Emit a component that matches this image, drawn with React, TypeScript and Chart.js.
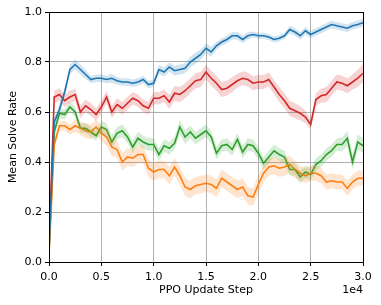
import React, { useEffect, useRef } from "react";
import { Chart, registerables } from "chart.js";

Chart.register(...registerables);

const steps = [
  0.0, 0.05, 0.1, 0.15, 0.2, 0.25, 0.3, 0.35, 0.4, 0.45, 0.5, 0.55, 0.6, 0.65, 0.7, 0.75, 0.8, 0.85, 0.9, 0.95,
  1.0, 1.05, 1.1, 1.15, 1.2, 1.25, 1.3, 1.35, 1.4, 1.45, 1.5, 1.55, 1.6, 1.65, 1.7, 1.75, 1.8, 1.85, 1.9, 1.95,
  2.0, 2.05, 2.1, 2.15, 2.2, 2.25, 2.3, 2.35, 2.4, 2.45, 2.5, 2.55, 2.6, 2.65, 2.7, 2.75, 2.8, 2.85, 2.9, 2.95, 3.0,
];

const blueMean = [
  0.05, 0.56, 0.61, 0.68, 0.77, 0.79, 0.77, 0.75, 0.73, 0.735, 0.735, 0.73, 0.735, 0.725, 0.72, 0.72, 0.715, 0.72, 0.73, 0.71,
  0.715, 0.77, 0.76, 0.78, 0.765, 0.77, 0.775, 0.8, 0.815, 0.83, 0.855, 0.84, 0.865, 0.88, 0.89, 0.905, 0.905, 0.89, 0.905, 0.91,
  0.905, 0.905, 0.9, 0.89, 0.895, 0.905, 0.93, 0.92, 0.905, 0.925, 0.91, 0.92, 0.93, 0.94, 0.95, 0.945, 0.94, 0.935, 0.945, 0.95, 0.957,
];
const blueSpread = [
  0.01, 0.02, 0.02, 0.02, 0.02, 0.02, 0.02, 0.018, 0.015, 0.015, 0.015, 0.015, 0.018, 0.015, 0.015, 0.015, 0.015, 0.015, 0.015, 0.015,
  0.015, 0.018, 0.018, 0.018, 0.02, 0.02, 0.02, 0.022, 0.022, 0.02, 0.02, 0.02, 0.015, 0.015, 0.015, 0.015, 0.015, 0.015, 0.015, 0.012,
  0.012, 0.012, 0.012, 0.012, 0.012, 0.012, 0.015, 0.015, 0.015, 0.015, 0.015, 0.015, 0.015, 0.015, 0.015, 0.015, 0.015, 0.015, 0.015, 0.015, 0.015,
];

const redMean = [
  0.07, 0.66, 0.67, 0.645, 0.66, 0.67, 0.6, 0.625, 0.61, 0.59, 0.62, 0.66, 0.6, 0.63, 0.615, 0.635, 0.655, 0.645, 0.625, 0.615,
  0.655, 0.655, 0.665, 0.64, 0.675, 0.67, 0.685, 0.705, 0.725, 0.73, 0.76, 0.735, 0.715, 0.69, 0.695, 0.71, 0.725, 0.735, 0.73, 0.715,
  0.72, 0.72, 0.73, 0.7, 0.67, 0.645, 0.615, 0.605, 0.595, 0.58, 0.55, 0.65, 0.665, 0.67, 0.695, 0.72, 0.715, 0.705, 0.72, 0.735, 0.755,
];
const redSpread = [
  0.01, 0.025, 0.025, 0.025, 0.025, 0.025, 0.025, 0.025, 0.025, 0.025, 0.025, 0.025, 0.025, 0.025, 0.025, 0.025, 0.025, 0.025, 0.025, 0.025,
  0.025, 0.025, 0.025, 0.028, 0.03, 0.03, 0.03, 0.03, 0.03, 0.03, 0.03, 0.03, 0.03, 0.03, 0.03, 0.03, 0.028, 0.028, 0.028, 0.028,
  0.028, 0.028, 0.028, 0.028, 0.03, 0.03, 0.03, 0.03, 0.028, 0.025, 0.02, 0.025, 0.028, 0.03, 0.03, 0.03, 0.03, 0.03, 0.03, 0.035, 0.035,
];

const greenMean = [
  0.04, 0.52, 0.595, 0.59, 0.62, 0.6, 0.535, 0.535, 0.52, 0.505, 0.54, 0.53, 0.48, 0.515, 0.525, 0.5, 0.46, 0.495, 0.48, 0.47,
  0.47, 0.43, 0.465, 0.455, 0.475, 0.54, 0.5, 0.52, 0.495, 0.51, 0.525, 0.5, 0.435, 0.465, 0.47, 0.45, 0.49, 0.44, 0.47, 0.465,
  0.435, 0.395, 0.42, 0.445, 0.43, 0.42, 0.37, 0.37, 0.34, 0.36, 0.35, 0.39, 0.405, 0.43, 0.445, 0.47, 0.47, 0.495, 0.4, 0.48, 0.465,
];
const greenSpread = [
  0.01, 0.02, 0.02, 0.02, 0.02, 0.02, 0.02, 0.02, 0.02, 0.02, 0.025, 0.025, 0.025, 0.025, 0.025, 0.025, 0.025, 0.025, 0.025, 0.025,
  0.025, 0.025, 0.025, 0.025, 0.025, 0.028, 0.028, 0.025, 0.025, 0.025, 0.025, 0.025, 0.025, 0.025, 0.025, 0.025, 0.025, 0.025, 0.025, 0.025,
  0.025, 0.025, 0.025, 0.025, 0.025, 0.025, 0.025, 0.025, 0.025, 0.025, 0.025, 0.025, 0.025, 0.025, 0.025, 0.025, 0.028, 0.03, 0.03, 0.03, 0.03,
];

const orangeMean = [
  0.03, 0.47, 0.545, 0.545, 0.53, 0.545, 0.535, 0.525, 0.52, 0.54, 0.515, 0.5, 0.46, 0.45, 0.4, 0.42, 0.415, 0.43, 0.43, 0.375,
  0.36, 0.37, 0.37, 0.345, 0.38, 0.345, 0.3, 0.29, 0.305, 0.31, 0.315, 0.31, 0.295, 0.335, 0.32, 0.305, 0.29, 0.3, 0.265, 0.26,
  0.31, 0.355, 0.38, 0.385, 0.375, 0.38, 0.39, 0.37, 0.355, 0.345, 0.355, 0.355, 0.345, 0.32, 0.325, 0.32, 0.32, 0.295, 0.32, 0.335, 0.335,
];
const orangeSpread = [
  0.01, 0.02, 0.02, 0.02, 0.02, 0.025, 0.025, 0.03, 0.03, 0.03, 0.03, 0.035, 0.035, 0.035, 0.035, 0.035, 0.035, 0.035, 0.035, 0.035,
  0.035, 0.035, 0.035, 0.035, 0.035, 0.035, 0.035, 0.035, 0.035, 0.035, 0.035, 0.035, 0.035, 0.035, 0.035, 0.035, 0.035, 0.035, 0.035, 0.035,
  0.035, 0.035, 0.035, 0.035, 0.035, 0.035, 0.035, 0.035, 0.03, 0.03, 0.03, 0.03, 0.03, 0.03, 0.03, 0.03, 0.03, 0.03, 0.03, 0.03, 0.03,
];

const xTicks = [0, 0.5, 1.0, 1.5, 2.0, 2.5, 3.0];
const yTicks = [0, 0.2, 0.4, 0.6, 0.8, 1.0];

const series = [
  { mean: blueMean, spread: blueSpread, color: "#1f77b4", band: "rgba(31,119,180,0.2)" },
  { mean: orangeMean, spread: orangeSpread, color: "#ff7f0e", band: "rgba(255,127,14,0.2)" },
  { mean: greenMean, spread: greenSpread, color: "#2ca02c", band: "rgba(44,160,44,0.2)" },
  { mean: redMean, spread: redSpread, color: "#d62728", band: "rgba(214,39,40,0.2)" },
];

const FONT = "'DejaVu Sans', sans-serif";

export default function App() {
  const ref = useRef<HTMLCanvasElement | null>(null);

  useEffect(() => {
    document.body.style.margin = "0";
    const canvas = ref.current;
    if (!canvas) return;

    const datasets: any[] = [];
    series.forEach((s) => {
      datasets.push({
        data: steps.map((x, i) => ({ x, y: s.mean[i] + s.spread[i] })),
        borderWidth: 0,
        pointRadius: 0,
        fill: false,
        borderColor: "rgba(0,0,0,0)",
      });
      datasets.push({
        data: steps.map((x, i) => ({ x, y: s.mean[i] - s.spread[i] })),
        borderWidth: 0,
        pointRadius: 0,
        fill: "-1",
        backgroundColor: s.band,
        borderColor: "rgba(0,0,0,0)",
      });
    });
    series.forEach((s) => {
      datasets.push({
        data: steps.map((x, i) => ({ x, y: s.mean[i] })),
        borderColor: s.color,
        borderWidth: 1.6,
        pointRadius: 0,
        fill: false,
        tension: 0,
      });
    });

    const framePlugin = {
      id: "frame",
      afterDraw(chart: any) {
        const { ctx, chartArea } = chart;
        ctx.save();
        ctx.strokeStyle = "#000";
        ctx.lineWidth = 1;
        ctx.strokeRect(
          Math.round(chartArea.left) + 0.5,
          Math.round(chartArea.top) + 0.5,
          Math.round(chartArea.right - chartArea.left),
          Math.round(chartArea.bottom - chartArea.top)
        );
        ctx.fillStyle = "#000";
        ctx.font = `11px ${FONT}`;
        ctx.textAlign = "right";
        ctx.textBaseline = "middle";
        ctx.fillText("1e4", chartArea.right, 290);
        ctx.restore();
      },
    };

    const chart = new Chart(canvas, {
      type: "line",
      data: { datasets },
      options: {
        animation: false,
        responsive: false,
        devicePixelRatio: 1,
        layout: { padding: { top: 12, right: 18, left: 0, bottom: 0 } },
        plugins: { legend: { display: false }, tooltip: { enabled: false } },
        scales: {
          x: {
            type: "linear",
            min: 0,
            max: 3,
            afterBuildTicks: (axis: any) => {
              axis.ticks = xTicks.map((v) => ({ value: v }));
            },
            afterFit: (axis: any) => {
              axis.height = 43;
            },
            ticks: {
              color: "#000",
              font: { family: FONT, size: 11 },
              padding: 5,
              maxRotation: 0,
              callback: (v: any) => Number(v).toFixed(1),
            },
            grid: { color: "#b0b0b0", lineWidth: 1, tickColor: "#000", tickLength: 4 },
            border: { display: true, color: "#000" },
            title: {
              display: true,
              text: "PPO Update Step",
              color: "#000",
              font: { family: FONT, size: 11 },
              padding: { top: 0, bottom: 8 },
            },
          },
          y: {
            type: "linear",
            min: 0,
            max: 1,
            afterBuildTicks: (axis: any) => {
              axis.ticks = yTicks.map((v) => ({ value: v }));
            },
            afterFit: (axis: any) => {
              axis.width = 49;
            },
            ticks: {
              color: "#000",
              font: { family: FONT, size: 11 },
              padding: 3,
              callback: (v: any) => Number(v).toFixed(1),
            },
            grid: { color: "#b0b0b0", lineWidth: 1, tickColor: "#000", tickLength: 4 },
            border: { display: true, color: "#000" },
            title: {
              display: true,
              text: "Mean Solve Rate",
              color: "#000",
              font: { family: FONT, size: 11 },
              padding: { top: 7, bottom: 0 },
            },
          },
        },
      },
      plugins: [framePlugin],
    } as any);

    return () => chart.destroy();
  }, []);

  return (
    <div style={{ width: 381, height: 305 }}>
      <canvas ref={ref} width={381} height={305} style={{ display: "block", width: 381, height: 305 }} />
    </div>
  );
}
